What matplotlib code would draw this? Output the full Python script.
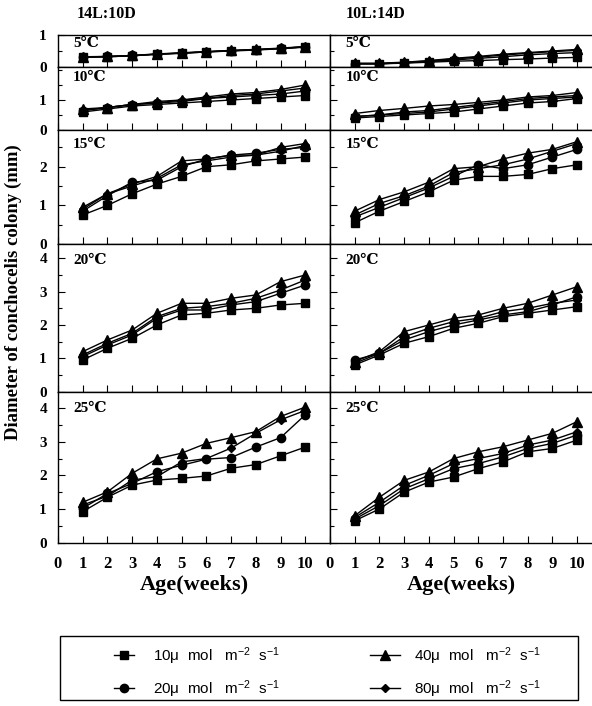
import numpy as np
import matplotlib
matplotlib.use("Agg")
import matplotlib.pyplot as plt
from matplotlib.ticker import MultipleLocator
from matplotlib.patches import Rectangle

# weeks of culture
weeks = [1, 2, 3, 4, 5, 6, 7, 8, 9, 10]
temps = ["5℃", "10℃", "15℃", "20℃", "25℃"]
photoperiods = ["14L:10D", "10L:14D"]
light_labels = ["10μ  mol   m$^{-2}$  s$^{-1}$", "20μ  mol   m$^{-2}$  s$^{-1}$",
                "40μ  mol   m$^{-2}$  s$^{-1}$", "80μ  mol   m$^{-2}$  s$^{-1}$"]

# 14L:10D  -> [10, 20, 40, 80] light intensity
ld14_5 = [[0.30, 0.32, 0.35, 0.40, 0.43, 0.47, 0.50, 0.53, 0.57, 0.62],
          [0.31, 0.33, 0.36, 0.40, 0.44, 0.48, 0.51, 0.54, 0.58, 0.63],
          [0.32, 0.33, 0.36, 0.41, 0.44, 0.48, 0.52, 0.55, 0.59, 0.64],
          [0.31, 0.32, 0.35, 0.40, 0.43, 0.47, 0.51, 0.54, 0.58, 0.63]]
ld14_10 = [[0.60, 0.70, 0.80, 0.85, 0.90, 0.95, 1.00, 1.05, 1.10, 1.15],
           [0.65, 0.75, 0.85, 0.90, 0.95, 1.05, 1.10, 1.15, 1.20, 1.30],
           [0.70, 0.75, 0.85, 0.95, 1.00, 1.10, 1.20, 1.25, 1.35, 1.50],
           [0.65, 0.75, 0.85, 0.90, 1.00, 1.05, 1.15, 1.20, 1.30, 1.40]]
ld14_15 = [[0.75, 1.00, 1.30, 1.55, 1.75, 2.00, 2.05, 2.15, 2.20, 2.25],
           [0.85, 1.25, 1.60, 1.65, 2.00, 2.20, 2.30, 2.35, 2.45, 2.50],
           [0.95, 1.30, 1.55, 1.75, 2.15, 2.20, 2.30, 2.30, 2.50, 2.60],
           [0.90, 1.30, 1.50, 1.70, 2.05, 2.15, 2.25, 2.30, 2.40, 2.55]]
ld14_20 = [[0.95, 1.30, 1.60, 2.00, 2.30, 2.35, 2.45, 2.50, 2.60, 2.65],
           [1.05, 1.40, 1.70, 2.20, 2.45, 2.45, 2.60, 2.70, 2.95, 3.20],
           [1.20, 1.55, 1.85, 2.35, 2.65, 2.65, 2.80, 2.90, 3.30, 3.50],
           [1.10, 1.45, 1.75, 2.25, 2.50, 2.55, 2.65, 2.80, 3.05, 3.35]]
ld14_25 = [[0.92, 1.35, 1.71, 1.86, 1.91, 1.98, 2.21, 2.32, 2.58, 2.84],
           [1.02, 1.46, 1.76, 2.11, 2.30, 2.48, 2.53, 2.84, 3.12, 3.80],
           [1.20, 1.51, 2.06, 2.49, 2.66, 2.95, 3.12, 3.30, 3.75, 4.03],
           [1.12, 1.38, 1.86, 1.96, 2.40, 2.50, 2.81, 3.25, 3.65, 3.93]]

# 10L:14D
ld10_5 = [[0.10, 0.10, 0.12, 0.15, 0.18, 0.20, 0.23, 0.25, 0.28, 0.30],
          [0.10, 0.10, 0.13, 0.17, 0.22, 0.27, 0.32, 0.38, 0.42, 0.45],
          [0.12, 0.12, 0.15, 0.20, 0.27, 0.33, 0.40, 0.45, 0.50, 0.55],
          [0.10, 0.10, 0.14, 0.19, 0.25, 0.31, 0.37, 0.43, 0.48, 0.52]]
ld10_10 = [[0.40, 0.45, 0.50, 0.55, 0.60, 0.70, 0.80, 0.90, 0.95, 1.05],
           [0.45, 0.50, 0.55, 0.60, 0.70, 0.80, 0.90, 1.00, 1.05, 1.10],
           [0.55, 0.65, 0.72, 0.80, 0.85, 0.92, 1.00, 1.10, 1.15, 1.25],
           [0.45, 0.50, 0.60, 0.65, 0.75, 0.85, 0.95, 1.05, 1.10, 1.15]]
ld10_15 = [[0.55, 0.85, 1.10, 1.35, 1.65, 1.75, 1.75, 1.80, 1.95, 2.05],
           [0.70, 0.95, 1.20, 1.45, 1.75, 2.05, 1.95, 2.05, 2.25, 2.45],
           [0.85, 1.15, 1.35, 1.60, 1.95, 2.00, 2.20, 2.35, 2.45, 2.65],
           [0.75, 1.05, 1.25, 1.50, 1.85, 1.95, 2.05, 2.20, 2.40, 2.60]]
ld10_20 = [[0.80, 1.10, 1.45, 1.65, 1.90, 2.05, 2.25, 2.35, 2.45, 2.55],
           [0.95, 1.15, 1.55, 1.80, 2.00, 2.15, 2.30, 2.40, 2.60, 2.85],
           [0.90, 1.20, 1.80, 2.00, 2.20, 2.30, 2.50, 2.65, 2.90, 3.15],
           [0.85, 1.15, 1.65, 1.90, 2.10, 2.20, 2.40, 2.50, 2.65, 2.75]]
ld10_25 = [[0.65, 1.00, 1.50, 1.80, 1.95, 2.20, 2.40, 2.70, 2.80, 3.05],
           [0.70, 1.10, 1.60, 1.90, 2.20, 2.35, 2.55, 2.80, 2.95, 3.20],
           [0.80, 1.35, 1.85, 2.10, 2.50, 2.70, 2.85, 3.05, 3.25, 3.60],
           [0.75, 1.20, 1.70, 2.00, 2.35, 2.50, 2.65, 2.90, 3.05, 3.30]]

data = [[ld14_5, ld14_10, ld14_15, ld14_20, ld14_25],
        [ld10_5, ld10_10, ld10_15, ld10_20, ld10_25]]

markers = ["s", "o", "^", "D"]
msizes = [6, 6, 6.5, 4.5]

serif = ["Liberation Serif", "DejaVu Serif"]
plt.rcParams["mathtext.default"] = "regular"

W, H = 592, 706
fig = plt.figure(figsize=(W / 100, H / 100), dpi=100)

# row edges in pixels (top, bottom), y limits and labelled ticks
rows = [(35, 67), (67, 130), (130, 244), (244, 391.6), (391.6, 542.6)]
ylims = [1.0, 2.1, 2.95, 4.43, 4.49]
ylabels = [[0, 1], [0, 1], [0, 1, 2], [0, 1, 2, 3, 4], [0, 1, 2, 3, 4]]
cols = [(58, 330, 11.0), (330, 592, 10.6)]

handles = []
for c, (x0, x1, xmax) in enumerate(cols):
    for r, (y0, y1) in enumerate(rows):
        ax = fig.add_axes([x0 / W, 1 - y1 / H, (x1 - x0) / W, (y1 - y0) / H])
        for k in range(4):
            ln, = ax.plot(weeks, data[c][r][k], color="black", lw=1,
                          marker=markers[k], ms=msizes[k], mfc="black", mec="black")
            if c == 0 and r == 0:
                handles.append(ln)
        ax.set_xlim(0, xmax)
        ax.set_ylim(0, ylims[r])
        ax.set_xticks(range(0, 11))
        ax.yaxis.set_minor_locator(MultipleLocator(0.5))
        ax.set_yticks(ylabels[r])
        ax.tick_params(direction="in", length=5, width=0.8, top=False, right=False)
        ax.tick_params(which="minor", direction="in", length=3, width=0.8)
        for s in ax.spines.values():
            s.set_linewidth(1.0)
        if c == 1:
            ax.spines["right"].set_visible(False)
            ax.set_yticklabels([])
        else:
            ax.set_yticklabels([str(t) for t in ylabels[r]],
                               family=serif, weight="bold", fontsize=11)
            ax.tick_params(axis="y", pad=8)
        if r == 4:
            ax.set_xticklabels([str(t) for t in range(0, 11)],
                               family=serif, weight="bold", fontsize=12)
            ax.tick_params(axis="x", pad=10)
            ax.set_xlabel("Age(weeks)", family=serif, weight="bold",
                          fontsize=16, labelpad=2)
        else:
            ax.set_xticklabels([])
        ax.text(0.055 if c == 0 else 0.06, 0.93, temps[r], transform=ax.transAxes,
                ha="left", va="top", family=serif, weight="bold", fontsize=11)
        if r == 0:
            ax.text(0.07 if c == 0 else 0.06, 1.4, photoperiods[c],
                    transform=ax.transAxes, ha="left", va="bottom",
                    family=serif, weight="bold", fontsize=11.5)

fig.text(13 / W, 1 - 292 / H, "Diameter of conchocelis colony (mm)", rotation=90,
         ha="center", va="center", family=serif, weight="bold", fontsize=13.5)

# legend box drawn separately, one legend per column inside it
fig.patches.append(Rectangle((60 / W, 1 - 700 / H), 518 / W, 64 / H,
                             transform=fig.transFigure, fill=False,
                             edgecolor="black", linewidth=1.0))
leg_kw = dict(loc="center left", frameon=False, labelspacing=0.75, borderpad=0,
              prop={"family": "Liberation Sans", "size": 11})
leg1 = fig.legend(handles[:2], light_labels[:2], handlelength=1.3, handletextpad=1.3,
                  bbox_to_anchor=(106 / W, 1 - 672.5 / H), **leg_kw)
leg2 = fig.legend(handles[2:], light_labels[2:], handlelength=2.0, handletextpad=0.9,
                  bbox_to_anchor=(362 / W, 1 - 672.5 / H), **leg_kw)

fig.savefig("out.png", dpi=100)
